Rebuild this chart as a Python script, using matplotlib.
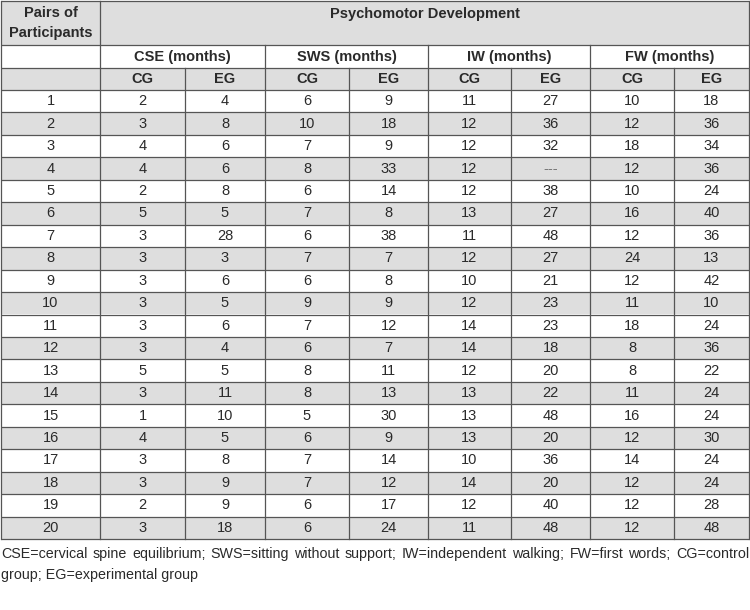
import matplotlib
matplotlib.use("Agg")
import matplotlib.pyplot as plt
from matplotlib.patches import Rectangle
from matplotlib import font_manager

# ---------------- data ----------------
pairs = list(range(1, 21))
cse_cg = [2, 3, 4, 4, 2, 5, 3, 3, 3, 3, 3, 3, 5, 3, 1, 4, 3, 3, 2, 3]
cse_eg = [4, 8, 6, 6, 8, 5, 28, 3, 6, 5, 6, 4, 5, 11, 10, 5, 8, 9, 9, 18]
sws_cg = [6, 10, 7, 8, 6, 7, 6, 7, 6, 9, 7, 6, 8, 8, 5, 6, 7, 7, 6, 6]
sws_eg = [9, 18, 9, 33, 14, 8, 38, 7, 8, 9, 12, 7, 11, 13, 30, 9, 14, 12, 17, 24]
iw_cg = [11, 12, 12, 12, 12, 13, 11, 12, 10, 12, 14, 14, 12, 13, 13, 13, 10, 14, 12, 11]
iw_eg = [27, 36, 32, None, 38, 27, 48, 27, 21, 23, 23, 18, 20, 22, 48, 20, 36, 20, 40, 48]
fw_cg = [10, 12, 18, 12, 10, 16, 12, 24, 12, 11, 18, 8, 8, 11, 16, 12, 14, 12, 12, 12]
fw_eg = [18, 36, 34, 36, 24, 40, 36, 13, 42, 10, 24, 36, 22, 24, 24, 30, 24, 24, 28, 48]

title_first_col = "Pairs of\nParticipants"
title_group = "Psychomotor Development"
measures = ["CSE (months)", "SWS (months)", "IW (months)", "FW (months)"]
subgroups = ["CG", "EG"]
footnote = ("CSE=cervical spine equilibrium; SWS=sitting without support; IW=independent walking; "
            "FW=first words; CG=control group; EG=experimental group")
missing_mark = "---"

# ---------------- layout ----------------
W, H = 750, 610
fig = plt.figure(figsize=(W / 100, H / 100), dpi=100)
ax = fig.add_axes([0, 0, 1, 1])
ax.set_xlim(0, W)
ax.set_ylim(H, 0)
ax.axis("off")

avail = {f.name for f in font_manager.fontManager.ttflist}
fam = [f for f in ["Liberation Sans Narrow", "Liberation Sans", "DejaVu Sans"] if f in avail]

col_x = [1, 100, 185, 265, 349, 428, 511, 590, 674, 749]
hdr_y = [1, 45, 68, 90]
row_h = 22.45
n = len(pairs)
data_y = [hdr_y[-1] + i * row_h for i in range(n + 1)]
shade = "#dedede"
line_c = "#555555"
fs = 10.5
txt_c = "#2a2a2a"

# backgrounds
ax.add_patch(Rectangle((col_x[0], hdr_y[0]), col_x[-1] - col_x[0], hdr_y[1] - hdr_y[0],
                       facecolor=shade, edgecolor="none"))
ax.add_patch(Rectangle((col_x[0], hdr_y[2]), col_x[-1] - col_x[0], hdr_y[3] - hdr_y[2],
                       facecolor=shade, edgecolor="none"))
for i in range(n):
    if i % 2 == 1:
        ax.add_patch(Rectangle((col_x[0], data_y[i]), col_x[-1] - col_x[0], row_h,
                               facecolor=shade, edgecolor="none"))

lw = 0.9
for y in hdr_y + data_y[1:]:
    ax.plot([col_x[0], col_x[-1]], [y, y], color=line_c, lw=lw, solid_capstyle="butt")
ybot = data_y[-1]
for k in (0, 1, 9):
    ax.plot([col_x[k], col_x[k]], [hdr_y[0], ybot], color=line_c, lw=lw)
for k in (3, 5, 7):
    ax.plot([col_x[k], col_x[k]], [hdr_y[1], ybot], color=line_c, lw=lw)
for k in (2, 4, 6, 8):
    ax.plot([col_x[k], col_x[k]], [hdr_y[2], ybot], color=line_c, lw=lw)

def cx(a, b):
    return (col_x[a] + col_x[b]) / 2

# header text
ax.text(cx(0, 1), 23, title_first_col, ha="center", va="center", fontsize=fs,
        fontweight="bold", family=fam, color=txt_c, linespacing=1.55)
ax.text(cx(1, 9), 14, title_group, ha="center", va="center", fontsize=fs,
        fontweight="bold", family=fam, color=txt_c)
for m, lab in enumerate(measures):
    ax.text(cx(1 + 2 * m, 3 + 2 * m), (hdr_y[1] + hdr_y[2]) / 2, lab, ha="center",
            va="center", fontsize=fs, fontweight="bold", family=fam, color=txt_c)
    for s, sg in enumerate(subgroups):
        k = 1 + 2 * m + s
        ax.text(cx(k, k + 1), (hdr_y[2] + hdr_y[3]) / 2, sg, ha="center", va="center",
                fontsize=fs, fontweight="bold", family=fam, color=txt_c)

cols = [pairs, cse_cg, cse_eg, sws_cg, sws_eg, iw_cg, iw_eg, fw_cg, fw_eg]
for i in range(n):
    yc = data_y[i] + row_h / 2
    for k, col in enumerate(cols):
        v = col[i]
        txt = missing_mark if v is None else str(v)
        ax.text(cx(k, k + 1), yc, txt, ha="center", va="center", fontsize=fs,
                family=fam, color=txt_c if v is not None else "#777777")

# footnote, justified first line
words = footnote.split(" ")
fig.canvas.draw()
renderer = fig.canvas.get_renderer()
line1_n = 11
left, right = 1, 749
y1, y2 = 554, 575
line1 = words[:line1_n]
line2 = words[line1_n:]

fs_foot = fs
while True:
    tmp, widths = [], []
    for w in line1:
        t = ax.text(0, y1, w, fontsize=fs_foot, family=fam, va="center", ha="left",
                    color=txt_c)
        widths.append(t.get_window_extent(renderer).width)
        tmp.append(t)
    gap = (right - left - sum(widths)) / (len(line1) - 1)
    if gap >= 4.5 or fs_foot < 7:
        break
    for t in tmp:
        t.remove()
    fs_foot -= 0.25
x = left
for t, wd in zip(tmp, widths):
    t.set_x(x)
    x += wd + gap
ax.text(left, y2, " ".join(line2), fontsize=fs_foot, family=fam, va="center", ha="left",
        color=txt_c)

fig.savefig("out.png", dpi=100, facecolor="white")
